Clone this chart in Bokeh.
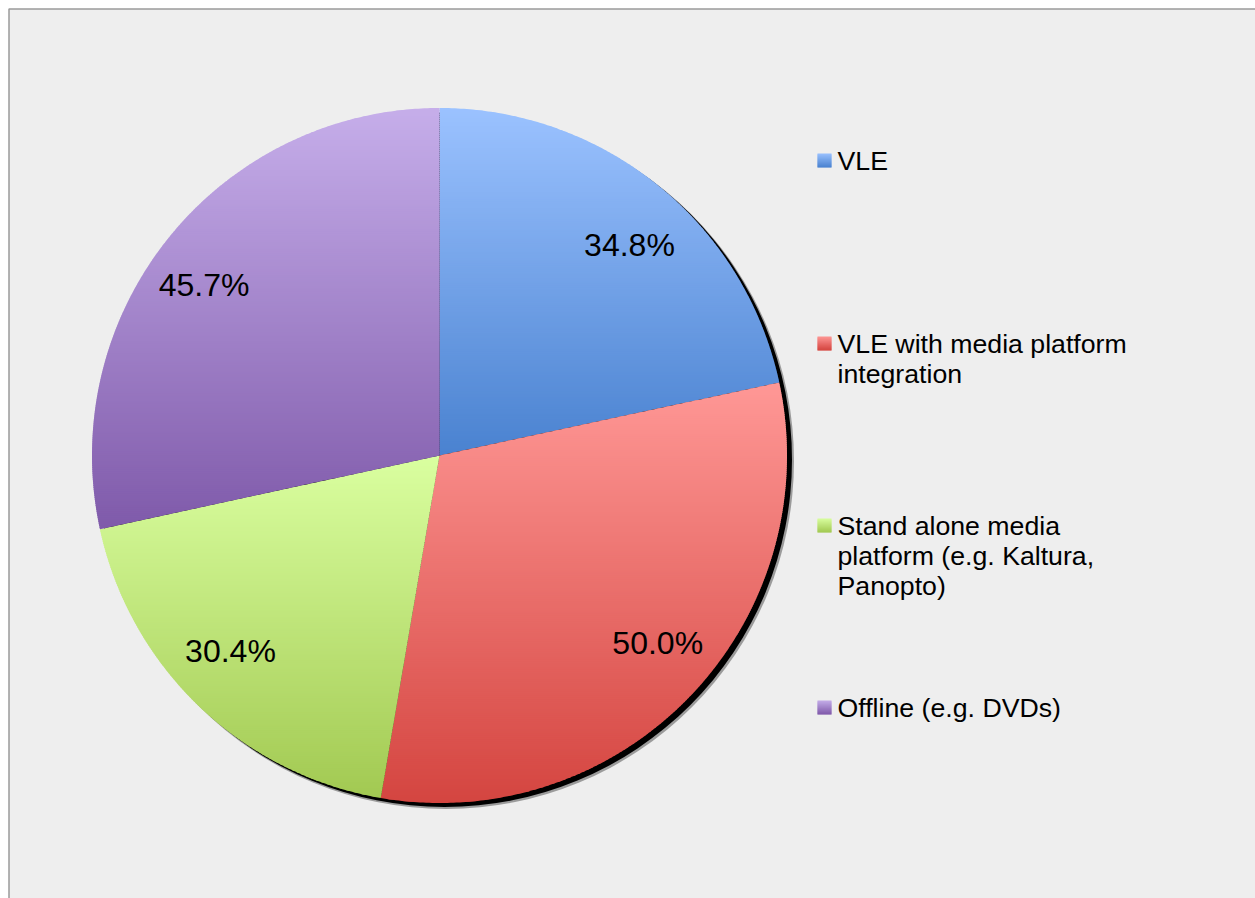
import math
from bokeh.plotting import figure
from bokeh.models import Range1d
from bokeh.embed import file_html
from bokeh.resources import INLINE
from bokeh.core.properties import value

# ---- data ----
categories = ["VLE",
              "VLE with media platform\nintegration",
              "Stand alone media\nplatform (e.g. Kaltura,\nPanopto)",
              "Offline (e.g. DVDs)"]
values = [34.8, 50.0, 30.4, 45.7]
labels = ["34.8%", "50.0%", "30.4%", "45.7%"]
top_colors = ["#9BC2FF", "#FF9896", "#DAFFA0", "#C6AEEA"]
bottom_colors = ["#4A82D0", "#D44540", "#A2C952", "#7F5AAA"]

# ---- layout (pixel-like data space, y downward) ----
W, H = 1255, 898
CX, CY, R = 439.0, 455.0, 347.5
LABEL_RX, LABEL_RY = 0.87, 0.78
LEG_X = 817.0
LEG_Y = [160.0, 343.0, 525.0, 707.0]
LINE_H = 30.0
FONT = "Liberation Sans"

p = figure(width=W, height=H, x_range=Range1d(0, W), y_range=Range1d(H, 0),
           x_axis_type=None, y_axis_type=None, output_backend="svg",
           toolbar_location=None, min_border=0)
p.grid.visible = False
p.background_fill_color = "white"
p.border_fill_color = "white"
p.outline_line_color = None

# chart area with grey border (left/top visible)
p.quad(left=[8.5], right=[W + 10], top=[8.5], bottom=[H + 10],
       fill_color="#EEEEEE", line_color="#9A9A9A", line_width=1.5)


def hex2rgb(h):
    h = h.lstrip("#")
    return tuple(int(h[i:i + 2], 16) for i in (0, 2, 4))


def mix(c1, c2, t):
    a, b = hex2rgb(c1), hex2rgb(c2)
    return "#%02x%02x%02x" % tuple(int(round(a[i] + (b[i] - a[i]) * t)) for i in range(3))


def clip_poly(pts, f):
    out = []
    n = len(pts)
    for i in range(n):
        P, Q = pts[i], pts[(i + 1) % n]
        fp, fq = f(P), f(Q)
        if fp >= 0:
            out.append(P)
        if (fp >= 0) != (fq >= 0):
            t = fp / (fp - fq)
            out.append((P[0] + t * (Q[0] - P[0]), P[1] + t * (Q[1] - P[1])))
    return out


def gradient_fill(poly, c_top, c_bot, step=2.0):
    ys = [q[1] for q in poly]
    ymin, ymax = min(ys), max(ys)
    n = max(1, int(math.ceil((ymax - ymin) / step)))
    xs_list, ys_list, cols = [], [], []
    for k in range(n):
        y0 = ymin + (ymax - ymin) * k / n
        y1 = ymin + (ymax - ymin) * (k + 1) / n + (0.8 if k < n - 1 else 0.0)
        band = clip_poly(poly, lambda q, y0=y0: q[1] - y0)
        band = clip_poly(band, lambda q, y1=y1: y1 - q[1])
        if len(band) < 3:
            continue
        xs_list.append([q[0] for q in band])
        ys_list.append([q[1] for q in band])
        t = ((y0 + y1) / 2 - ymin) / (ymax - ymin) if ymax > ymin else 0
        cols.append(mix(c_top, c_bot, min(1, max(0, t))))
    p.patches(xs_list, ys_list, fill_color=cols, line_color=None)


# shadow
p.circle(x=[CX + 6.5], y=[CY + 5.5], radius=R + 0.5, fill_color="black", fill_alpha=0.35, line_color=None)
p.circle(x=[CX + 5], y=[CY + 4], radius=R, fill_color="black", line_color=None)

total = sum(values)
ang = 0.0
for i, v in enumerate(values):
    a0 = ang
    a1 = ang + 360.0 * v / total
    ang = a1
    nseg = max(2, int((a1 - a0) / 0.5))
    poly = [(CX, CY)]
    for s in range(nseg + 1):
        a = math.radians(a0 + (a1 - a0) * s / nseg)
        poly.append((CX + R * math.sin(a), CY - R * math.cos(a)))
    gradient_fill(poly, top_colors[i], bottom_colors[i])
    am = math.radians((a0 + a1) / 2)
    p.text(x=[CX + LABEL_RX * R * math.sin(am)], y=[CY - LABEL_RY * R * math.cos(am)],
           text=[labels[i]], text_font=value(FONT), text_font_size="32px",
           text_align="center", text_baseline="middle", text_color="black")

# legend
for i, cat in enumerate(categories):
    yc = LEG_Y[i]
    sq = [(LEG_X, yc - 7), (LEG_X + 14, yc - 7), (LEG_X + 14, yc + 7), (LEG_X, yc + 7)]
    gradient_fill(sq, top_colors[i], bottom_colors[i], step=1.0)
    for j, line in enumerate(cat.split("\n")):
        p.text(x=[LEG_X + 20], y=[yc + j * LINE_H], text=[line], text_font=value(FONT),
               text_font_size="26.7px", text_align="left", text_baseline="middle",
               text_color="black")

open("out.html", "w").write(file_html(p, INLINE))
